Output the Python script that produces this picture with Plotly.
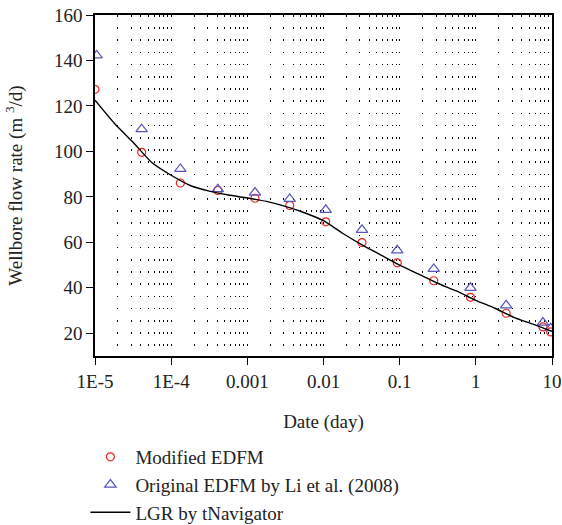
import plotly.graph_objects as go

# Modified EDFM (red circles)
t_mod = [1e-5, 4.1e-5, 1.32e-4, 4.1e-4, 1.26e-3, 3.6e-3, 1.07e-2, 3.2e-2, 9.3e-2, 0.28, 0.85, 2.5, 7.6, 9.6]
q_mod = [127.3, 99.6, 86.1, 82.8, 79.4, 76.2, 69.0, 59.9, 51.0, 43.1, 35.8, 28.8, 22.8, 20.6]

# Original EDFM by Li et al. (2008) (blue triangles)
t_orig = [1.05e-5, 4.1e-5, 1.32e-4, 4.1e-4, 1.26e-3, 3.6e-3, 1.07e-2, 3.2e-2, 9.3e-2, 0.28, 0.85, 2.5, 7.6, 9.6]
q_orig = [142.2, 109.8, 92.3, 83.4, 81.9, 79.1, 74.3, 65.5, 56.5, 48.3, 40.0, 32.3, 24.7, 22.2]

# LGR by tNavigator (line)
t_lgr = [1e-5, 1.78e-5, 3.16e-5, 5.62e-5, 1e-4, 1.78e-4, 3.16e-4, 5.62e-4, 1e-3, 1.78e-3,
         3.16e-3, 5.62e-3, 1e-2, 1.78e-2, 3.16e-2, 5.62e-2, 0.1, 0.178, 0.316, 0.562, 1, 1.78, 3.16, 5.62, 10]
q_lgr = [122.5, 112.5, 104.0, 95.0, 89.5, 85.0, 82.5, 80.8, 79.5, 78.0,
         75.8, 73.0, 69.5, 64.0, 59.0, 54.5, 50.0, 46.0, 42.0, 38.5, 34.5, 31.0, 27.0, 24.0, 20.8]

x_tickvals = [1e-5, 1e-4, 1e-3, 1e-2, 1e-1, 1, 10]
x_ticktext = ["1E-5", "1E-4", "0.001", "0.01", "0.1", "1", "10"]
y_tickvals = [20, 40, 60, 80, 100, 120, 140, 160]

minor_vals = [m * 10.0 ** e for e in range(-5, 1) for m in range(2, 10)]

FONT = "Times New Roman, Liberation Serif, Tinos, serif"

fig = go.Figure()
fig.add_trace(go.Scatter(
    x=t_mod, y=q_mod, mode="markers", name="Modified EDFM",
    marker=dict(symbol="circle-open", size=8, color="#e8261f", line=dict(width=1.2)),
))
fig.add_trace(go.Scatter(
    x=t_orig, y=q_orig, mode="markers", name="Original EDFM by Li et al. (2008)",
    marker=dict(symbol="triangle-up-open", size=10, color="#5656bb", line=dict(width=1.2)),
))
fig.add_trace(go.Scatter(
    x=t_lgr, y=q_lgr, mode="lines", name="LGR by tNavigator",
    line=dict(color="black", width=1.4, shape="spline", smoothing=0.6),
))

fig.update_layout(
    width=562, height=525,
    margin=dict(l=95, r=10, t=15, b=169, autoexpand=False),
    paper_bgcolor="white", plot_bgcolor="white",
    font=dict(family=FONT, size=19, color="#222222"),
    showlegend=True,
    legend=dict(
        x=-0.021, y=-0.2405, xanchor="left", yanchor="top",
        bgcolor="rgba(0,0,0,0)", font=dict(size=19, family=FONT),
        itemwidth=40, tracegroupgap=0,
    ),
)
fig.update_xaxes(
    type="log", range=[-5, 1], automargin=False,
    tickmode="array", tickvals=x_tickvals, ticktext=x_ticktext,
    ticks="outside", ticklen=7, tickwidth=1.3, tickcolor="black",
    showline=True, linecolor="black", linewidth=1.5, mirror=True,
    showgrid=True, gridcolor="black", gridwidth=1, griddash="1.5px,10.7px",
    minor=dict(tickmode="array", tickvals=minor_vals, ticks="", showgrid=True,
               gridcolor="black", gridwidth=1, griddash="1.5px,10.7px"),
    zeroline=False,
    title=dict(text="Date (day)", standoff=24, font=dict(size=19, family=FONT)),
    tickfont=dict(size=19, family=FONT),
)
fig.update_yaxes(
    range=[10, 160], automargin=False,
    tickmode="array", tickvals=y_tickvals,
    ticks="outside", ticklen=7, tickwidth=1.3, tickcolor="black",
    showline=True, linecolor="black", linewidth=1.5, mirror=True,
    showgrid=False, zeroline=False,
    title=dict(text="Wellbore flow rate (m <sup>3</sup>/d)", standoff=26, font=dict(size=19, family=FONT)),
    tickfont=dict(size=19, family=FONT),
)

fig.write_html("out.html")
